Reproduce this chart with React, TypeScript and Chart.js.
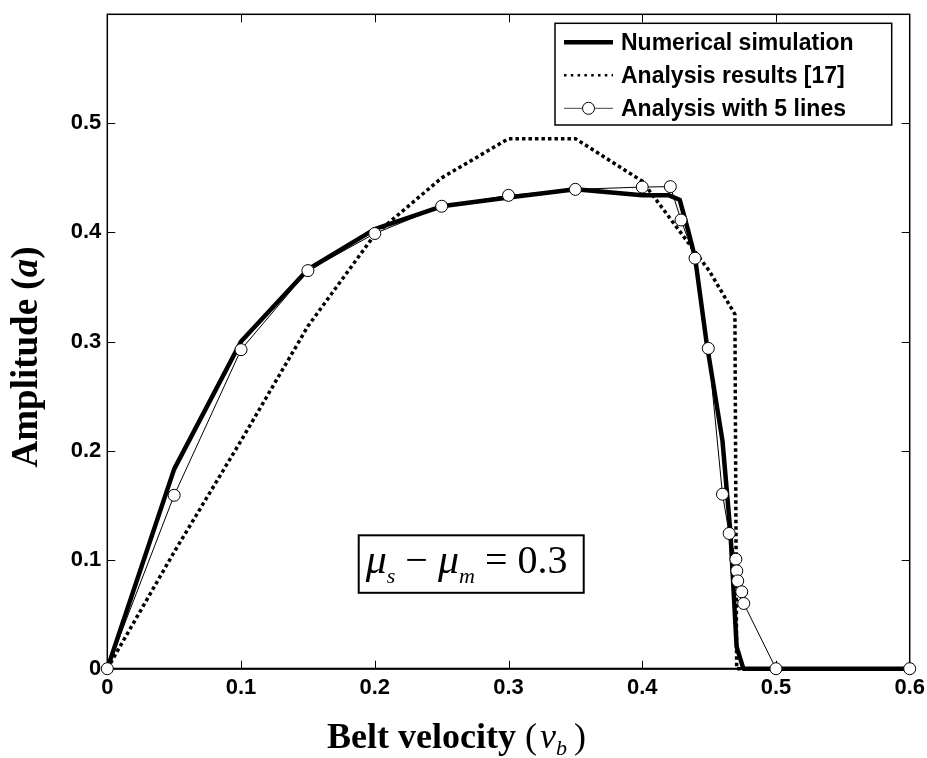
import React, { useEffect, useRef } from "react";
import { Chart, registerables } from "chart.js";

Chart.register(...registerables);

// ---- data ----
const numericalX = [0, 0.05, 0.1, 0.15, 0.2, 0.25, 0.3, 0.35, 0.4, 0.42, 0.428, 0.4345, 0.4395, 0.448, 0.46, 0.466, 0.4706, 0.4756, 0.6];
const numericalY = [0, 0.183, 0.3, 0.366, 0.403, 0.424, 0.432, 0.4395, 0.434, 0.434, 0.43, 0.401, 0.377, 0.3, 0.209, 0.124, 0.02, 0, 0];

const refX = [0, 0.05, 0.1, 0.15, 0.2, 0.25, 0.3, 0.35, 0.4, 0.45, 0.4693, 0.4706, 0.6];
const refY = [0, 0.107, 0.209, 0.314, 0.398, 0.45, 0.486, 0.486, 0.447, 0.365, 0.325, 0, 0];

const fiveX = [0, 0.05, 0.1, 0.15, 0.2, 0.25, 0.3, 0.35, 0.4, 0.421, 0.429, 0.4395, 0.4494, 0.46, 0.465, 0.47, 0.4707, 0.4714, 0.4744, 0.4759, 0.5, 0.6];
const fiveY = [0, 0.159, 0.2925, 0.365, 0.399, 0.424, 0.434, 0.4395, 0.4416, 0.442, 0.4114, 0.3764, 0.2937, 0.16, 0.124, 0.1004, 0.0897, 0.0805, 0.0705, 0.0598, 0, 0];

const xTicks = [0, 0.1, 0.2, 0.3, 0.4, 0.5, 0.6];
const yTicks = [0, 0.1, 0.2, 0.3, 0.4, 0.5];

const seriesLabels = ["Numerical simulation", "Analysis results [17]", "Analysis with 5 lines"];
const xTitleMain = "Belt velocity";
const yTitleMain = "Amplitude";

const SANS = "'Liberation Sans', Arial, sans-serif";
const SERIF = "'Liberation Serif', 'Times New Roman', serif";

const fmt = (v: number) => (v === 0 ? "0" : v.toFixed(1));
const pts = (xs: number[], ys: number[]) => xs.map((x, i) => ({ x, y: ys[i] }));

type Part = { t: string; f: string; dy?: number; dx?: number };

function drawParts(ctx: CanvasRenderingContext2D, parts: Part[], x: number, y: number, align: "left" | "center") {
  let total = 0;
  const widths = parts.map((p) => {
    ctx.font = p.f;
    const w = ctx.measureText(p.t).width + (p.dx || 0);
    total += w;
    return w;
  });
  let cx = align === "center" ? x - total / 2 : x;
  ctx.textAlign = "left";
  ctx.textBaseline = "alphabetic";
  parts.forEach((p, i) => {
    ctx.font = p.f;
    ctx.fillText(p.t, cx + (p.dx || 0), y + (p.dy || 0));
    cx += widths[i];
  });
}

const decorPlugin = {
  id: "decor",
  beforeDatasetsDraw(chart: any) {
    const { ctx, chartArea: a, scales } = chart;
    const xs = scales.x;
    const ys = scales.y;
    ctx.save();
    ctx.strokeStyle = "#000";
    ctx.lineWidth = 1.5;
    ctx.strokeRect(a.left, a.top, a.right - a.left, a.bottom - a.top);
    ctx.lineWidth = 2;
    ctx.beginPath();
    ctx.moveTo(a.left, a.bottom);
    ctx.lineTo(a.right, a.bottom);
    ctx.stroke();
    ctx.lineWidth = 1;
    const tl = 8;
    ctx.beginPath();
    xTicks.forEach((v) => {
      const px = Math.round(xs.getPixelForValue(v)) + 0.5;
      if (px <= a.left + 2 || px >= a.right - 2) return;
      ctx.moveTo(px, a.bottom);
      ctx.lineTo(px, a.bottom - tl);
      ctx.moveTo(px, a.top);
      ctx.lineTo(px, a.top + tl);
    });
    yTicks.forEach((v) => {
      const py = Math.round(ys.getPixelForValue(v)) + 0.5;
      if (py >= a.bottom - 2 || py <= a.top + 2) return;
      ctx.moveTo(a.left, py);
      ctx.lineTo(a.left + tl, py);
      ctx.moveTo(a.right, py);
      ctx.lineTo(a.right - tl, py);
    });
    ctx.stroke();
    ctx.restore();
  },
  afterDraw(chart: any) {
    const { ctx, chartArea: a, scales } = chart;
    const xs = scales.x;
    const ys = scales.y;
    ctx.save();
    ctx.fillStyle = "#000";
    ctx.strokeStyle = "#000";

    // ---- legend ----
    const lx = a.right - 18 - 336.7;
    const ly = a.top + 9;
    ctx.fillStyle = "#fff";
    ctx.fillRect(lx, ly, 336.7, 101.7);
    ctx.lineWidth = 1.5;
    ctx.strokeRect(lx, ly, 336.7, 101.7);
    const rows = [ly + 19, ly + 52, ly + 85];
    const s1 = lx + 9;
    const s2 = lx + 58;
    // row 1: thick
    ctx.lineWidth = 4.5;
    ctx.setLineDash([]);
    ctx.beginPath();
    ctx.moveTo(s1, rows[0]);
    ctx.lineTo(s2, rows[0]);
    ctx.stroke();
    // row 2: dotted
    ctx.lineWidth = 2.5;
    ctx.setLineDash([2.5, 4.3]);
    ctx.beginPath();
    ctx.moveTo(s1, rows[1]);
    ctx.lineTo(s2, rows[1]);
    ctx.stroke();
    ctx.setLineDash([]);
    // row 3: thin + circle
    ctx.lineWidth = 1;
    ctx.strokeStyle = "#444";
    ctx.beginPath();
    ctx.moveTo(s1, rows[2]);
    ctx.lineTo(s2, rows[2]);
    ctx.stroke();
    ctx.strokeStyle = "#000";
    ctx.beginPath();
    ctx.arc((s1 + s2) / 2, rows[2], 6, 0, Math.PI * 2);
    ctx.fillStyle = "#fff";
    ctx.fill();
    ctx.stroke();
    ctx.fillStyle = "#000";
    ctx.font = `bold 23px ${SANS}`;
    ctx.textAlign = "left";
    ctx.textBaseline = "middle";
    seriesLabels.forEach((t, i) => ctx.fillText(t, lx + 66, rows[i] + 1));

    // ---- annotation box ----
    const bx = xs.getPixelForValue(0.188);
    const by = ys.getPixelForValue(0.1223);
    ctx.fillStyle = "#fff";
    ctx.fillRect(bx, by, 225, 57.5);
    ctx.lineWidth = 2;
    ctx.strokeRect(bx, by, 225, 57.5);
    ctx.fillStyle = "#000";
    const big = `40px ${SERIF}`;
    const bigI = `italic 42px ${SERIF}`;
    const subI = `italic 22px ${SERIF}`;
    drawParts(
      ctx,
      [
        { t: "\u03bc", f: bigI },
        { t: "s", f: subI, dy: 10 },
        { t: " \u2212 ", f: big },
        { t: "\u03bc", f: bigI },
        { t: "m", f: subI, dy: 10 },
        { t: " = 0.3", f: big },
      ],
      bx + 7,
      by + 38,
      "left"
    );

    // ---- x title ----
    drawParts(
      ctx,
      [
        { t: xTitleMain, f: `bold 36px ${SERIF}` },
        { t: " (", f: `36px ${SERIF}` },
        { t: "v", f: `italic 36px ${SERIF}`, dx: 3 },
        { t: "b", f: `italic 22px ${SERIF}`, dy: 7 },
        { t: " )", f: `36px ${SERIF}`, dx: -2 },
      ],
      456.5,
      748,
      "center"
    );

    // ---- y title ----
    ctx.translate(37, 357);
    ctx.rotate(-Math.PI / 2);
    drawParts(
      ctx,
      [
        { t: yTitleMain + " (", f: `bold 37px ${SERIF}` },
        { t: "a", f: `italic bold 37px ${SERIF}` },
        { t: ")", f: `bold 37px ${SERIF}` },
      ],
      0,
      0,
      "center"
    );
    ctx.restore();
  },
};

const zeroPad = (s: any) => {
  s.paddingTop = 0;
  s.paddingBottom = 0;
  s.paddingLeft = 0;
  s.paddingRight = 0;
};

export default function App() {
  const ref = useRef<HTMLCanvasElement | null>(null);
  useEffect(() => {
    if (!ref.current) return;
    const tickFont = { family: SANS, size: 22, weight: "bold" as const };
    const chart = new Chart(ref.current, {
      type: "line",
      data: {
        datasets: [
          {
            label: seriesLabels[0],
            data: pts(numericalX, numericalY),
            borderColor: "#000",
            borderWidth: 4.5,
            pointRadius: 0,
            tension: 0,
            fill: false,
            clip: false,
            order: 1,
            borderJoinStyle: "round",
          } as any,
          {
            label: seriesLabels[1],
            data: pts(refX, refY),
            borderColor: "#000",
            borderWidth: 3.5,
            borderDash: [3.5, 3],
            borderCapStyle: "butt",
            pointRadius: 0,
            tension: 0,
            fill: false,
            clip: false,
            order: 2,
          } as any,
          {
            label: seriesLabels[2],
            data: pts(fiveX, fiveY),
            borderColor: "#000",
            borderWidth: 1,
            pointRadius: 6,
            pointBorderWidth: 1,
            pointBackgroundColor: "#fff",
            pointBorderColor: "#000",
            tension: 0,
            fill: false,
            clip: false,
            order: 0,
          } as any,
        ],
      },
      options: {
        responsive: false,
        devicePixelRatio: 1,
        animation: false,
        layout: { padding: { top: 14.3, right: 17.3, left: 0, bottom: 0 } },
        plugins: { legend: { display: false }, tooltip: { enabled: false }, title: { display: false } },
        scales: {
          x: {
            type: "linear",
            min: 0,
            max: 0.6,
            afterBuildTicks: (s: any) => {
              s.ticks = xTicks.map((v) => ({ value: v }));
            },
            afterFit: (s: any) => {
              s.height = 89.3;
              zeroPad(s);
            },
            ticks: {
              callback: (v: any) => fmt(Number(v)),
              padding: 6,
              maxRotation: 0,
              autoSkip: false,
              font: tickFont,
              color: "#000",
            },
            grid: { display: false, drawTicks: false },
            border: { display: false },
          },
          y: {
            type: "linear",
            min: 0,
            max: 0.6,
            afterBuildTicks: (s: any) => {
              s.ticks = yTicks.map((v) => ({ value: v }));
            },
            afterFit: (s: any) => {
              s.width = 107.3;
              zeroPad(s);
            },
            ticks: {
              callback: (v: any) => fmt(Number(v)),
              padding: 6,
              autoSkip: false,
              font: tickFont,
              color: "#000",
            },
            grid: { display: false, drawTicks: false },
            border: { display: false },
          },
        },
      } as any,
      plugins: [decorPlugin],
    });
    return () => chart.destroy();
  }, []);
  return (
    <canvas
      ref={ref}
      width={927}
      height={758}
      style={{ position: "absolute", left: 0, top: 0, display: "block", width: 927, height: 758 }}
    />
  );
}
